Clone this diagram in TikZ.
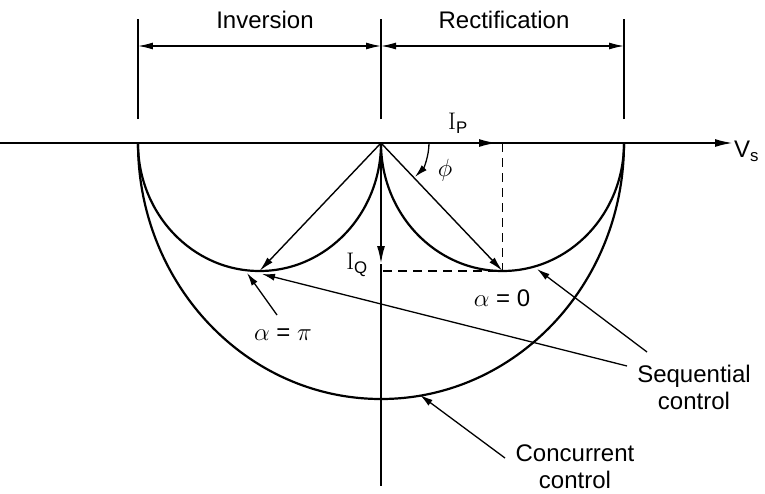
\documentclass[tikz,border=0pt]{standalone}
\usepackage{fontspec}
\setmainfont{Liberation Sans}
\usetikzlibrary{positioning,arrows.meta,calc}
\tikzset{
    every picture/.style={x=1pt,y=1pt},
    axis/.style={line width=2pt},
    locus/.style={line width=2.2pt},
    tick/.style={line width=1.4pt},
    dim/.style={line width=1.3pt,{Latex[length=15pt,width=7pt]}-{Latex[length=15pt,width=7pt]}},
    vec/.style={line width=1.4pt,-{Latex[length=15pt,width=7pt]}},
    pointer/.style={line width=1.3pt,-{Latex[length=13pt,width=7pt]}},
    guide/.style={line width=1.4pt,dash pattern=on 9pt off 6pt},
    lbl/.style={font=\fontsize{24}{27}\selectfont,inner sep=1pt},
}
\newcommand{\curr}[1]{{\fontfamily{lmr}\selectfont I}\textsubscript{#1}}

\begin{document}
\begin{tikzpicture}
    \useasboundingbox (-381,-350) rectangle (384,143);
    % points
    \coordinate (O) at (0,0);
    \coordinate (axl) at (-381,0);
    \coordinate (ip) at (116,0);
    \coordinate (iq) at (0,-121);
    \coordinate (vbot) at (0,-343);
    \coordinate (a0) at (121.5,-128);
    \coordinate (api) at (-121.5,-128);
    \coordinate (pq) at (2,-128);
    \coordinate (pp) at (121.5,0);
    % dimension ticks
    \foreach \x/\n in {-243/tl,0/tm,243/tr}{
        \draw[tick] (\x,24) -- (\x,124);
        \coordinate (\n) at (\x,97);
    }
    \draw[dim] (tl) -- (tm);
    \draw[dim] (tm) -- (tr);
    \node[lbl,anchor=base] (inv) at (-116,115) {Inversion};
    \node[lbl,anchor=base] (rect) at (123,115) {Rectification};
    % axes
    \node[lbl,anchor=west] (vs) at (352,-8) {V\textsubscript{s}};
    \draw[axis,-{Latex[length=18pt,width=8pt]}] (axl) -- (vs.west |- O);
    \draw[axis,-{Latex[length=18pt,width=8pt]}] (O) -- (ip);
    \draw[axis,-{Latex[length=18pt,width=8pt]}] (O) -- (iq);
    \draw[axis] (iq) -- (vbot);
    \node[lbl] (iplbl) at (77,20) {\curr{P}};
    \node[lbl] (iqlbl) at (-24,-122) {\curr{Q}};
    % loci
    \draw[locus] (-243,0) arc[start angle=180,end angle=360,x radius=243,y radius=256];
    \draw[locus] (O) arc[start angle=180,end angle=360,x radius=121.5,y radius=128];
    \draw[locus] (-243,0) arc[start angle=180,end angle=360,x radius=121.5,y radius=128];
    % phasors
    \draw[guide] (pp) -- (a0);
    \draw[guide] (pq) -- (a0);
    \draw[vec] (O) -- (a0);
    \draw[vec] (O) -- (api);
    \draw[pointer] (48,0) arc[start angle=0,end angle=-45,radius=48];
    \node[lbl] (phi) at (64,-27) {$\phi$};
    \node[lbl] (alz) at (121,-155) {$\alpha$ = 0};
    \node[lbl] (alp) at (-98,-192) {$\alpha$ = $\pi$};
    % call-outs
    \node[lbl,align=center] (seq) at (313,-244) {Sequential\\control};
    \node[lbl,align=center] (conc) at (194,-324) {Concurrent\\control};
    \coordinate (alpt) at (-104,-172);
    \coordinate (alph) at (-134,-130);
    \coordinate (sqa) at (266,-209);
    \coordinate (sqah) at (156,-126);
    \coordinate (sqb) at (246,-223);
    \coordinate (sqbh) at (-119,-131);
    \coordinate (cct) at (124,-315);
    \coordinate (cch) at (39,-252);
    \draw[pointer] (alpt) -- (alph);
    \draw[pointer] (sqa) -- (sqah);
    \draw[pointer] (sqb) -- (sqbh);
    \draw[pointer] (cct) -- (cch);
\end{tikzpicture}
\end{document}
